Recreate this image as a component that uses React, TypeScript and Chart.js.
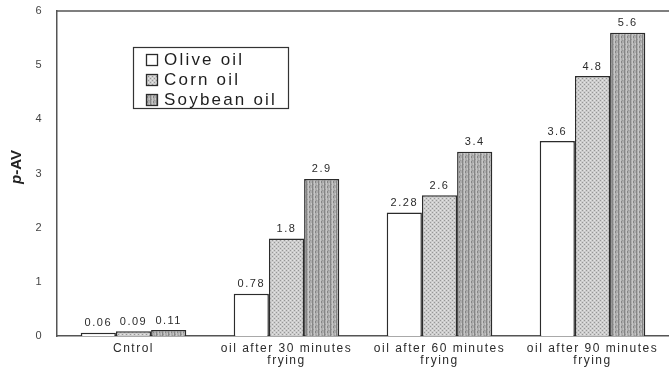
import React, { useEffect, useRef } from "react";
import { Chart, registerables } from "chart.js";

Chart.register(...registerables);

// Categories (multi-line labels) and p-AV values per oil
const categories: string[][] = [
  ["Cntrol"],
  ["oil after 30 minutes", "frying"],
  ["oil after 60 minutes", "frying"],
  ["oil after 90 minutes", "frying"],
];
const seriesNames = ["Olive oil", "Corn oil", "Soybean oil"];
const oliveOil = [0.06, 0.78, 2.28, 3.6];
const cornOil = [0.09, 1.8, 2.6, 4.8];
const soybeanOil = [0.11, 2.9, 3.4, 5.6];
const yTicks = [0, 1, 2, 3, 4, 5, 6];

const FONT = "'Liberation Sans', Arial, Helvetica, sans-serif";
const INK = "#2b2b2b";

function makeCornPattern(): CanvasPattern | string {
  const c = document.createElement("canvas");
  c.width = 4;
  c.height = 4;
  const g = c.getContext("2d");
  if (!g) return "#cacaca";
  g.fillStyle = "#cdcdcd";
  g.fillRect(0, 0, 4, 4);
  g.fillStyle = "#979797";
  g.fillRect(0, 0, 1, 1);
  g.fillRect(2, 2, 1, 1);
  g.fillStyle = "#e4e4e4";
  g.fillRect(2, 0, 1, 1);
  g.fillRect(0, 2, 1, 1);
  return g.createPattern(c, "repeat") || "#cacaca";
}

function makeSoyPattern(): CanvasPattern | string {
  const c = document.createElement("canvas");
  c.width = 6;
  c.height = 5;
  const g = c.getContext("2d");
  if (!g) return "#aaaaaa";
  g.fillStyle = "#adadad";
  g.fillRect(0, 0, 6, 5);
  g.fillStyle = "#858585";
  g.fillRect(0, 0, 1, 5);
  g.fillRect(3, 1, 1, 2);
  g.fillStyle = "#c6c6c6";
  g.fillRect(2, 0, 1, 5);
  g.fillRect(5, 3, 1, 2);
  g.fillStyle = "#989898";
  g.fillRect(4, 0, 1, 1);
  g.fillRect(1, 4, 1, 1);
  return g.createPattern(c, "repeat") || "#aaaaaa";
}

// Frame line across the top of the plot area, y-axis title, value labels, in-plot legend
const decorPlugin = {
  id: "decor",
  beforeDraw(chart: any) {
    chart.ctx.letterSpacing = "1.5px";
  },
  afterDatasetsDraw(chart: any) {
    const ctx = chart.ctx as CanvasRenderingContext2D;
    const area = chart.chartArea;

    // top frame line
    ctx.save();
    ctx.strokeStyle = "#555";
    ctx.lineWidth = 1.5;
    ctx.beginPath();
    ctx.moveTo(area.left, area.top);
    ctx.lineTo(chart.width, area.top);
    ctx.stroke();
    ctx.restore();

    // value labels above each bar
    ctx.save();
    (ctx as any).letterSpacing = "1.5px";
    ctx.font = `11px ${FONT}`;
    ctx.fillStyle = INK;
    ctx.textAlign = "center";
    ctx.textBaseline = "bottom";
    chart.data.datasets.forEach((ds: any, i: number) => {
      const meta = chart.getDatasetMeta(i);
      meta.data.forEach((bar: any, j: number) => {
        ctx.fillText(String(ds.data[j]), bar.x, bar.y - 4);
      });
    });
    ctx.restore();

    // y-axis title: italic p, upright -AV
    ctx.save();
    (ctx as any).letterSpacing = "0px";
    ctx.translate(17, 167);
    ctx.rotate(-Math.PI / 2);
    ctx.textBaseline = "middle";
    ctx.fillStyle = "#222";
    const partA = "p";
    const partB = "-AV";
    ctx.font = `italic bold 15px ${FONT}`;
    const wA = ctx.measureText(partA).width;
    ctx.font = `bold 15px ${FONT}`;
    const wB = ctx.measureText(partB).width;
    const start = -(wA + wB) / 2;
    ctx.font = `italic bold 15px ${FONT}`;
    ctx.textAlign = "left";
    ctx.fillText(partA, start, 0);
    ctx.font = `bold 15px ${FONT}`;
    ctx.fillText(partB, start + wA, 0);
    ctx.restore();

    // legend box
    ctx.save();
    const bx = 133;
    const by = 47;
    const bw = 155;
    const bh = 61;
    ctx.fillStyle = "#ffffff";
    ctx.fillRect(bx, by, bw, bh);
    ctx.strokeStyle = "#333";
    ctx.lineWidth = 1.2;
    ctx.strokeRect(bx + 0.5, by + 0.5, bw, bh);
    (ctx as any).letterSpacing = "2.2px";
    ctx.font = `17px ${FONT}`;
    ctx.textBaseline = "middle";
    ctx.textAlign = "left";
    chart.data.datasets.forEach((ds: any, i: number) => {
      const cy = by + 12 + i * 20;
      ctx.fillStyle = ds.backgroundColor;
      ctx.fillRect(146, cy - 5, 12, 12);
      ctx.strokeStyle = INK;
      ctx.lineWidth = 1.3;
      ctx.strokeRect(146.5, cy - 4.5, 11, 11);
      ctx.fillStyle = "#1e1e1e";
      ctx.fillText(ds.label, 164, cy + 1);
    });
    ctx.restore();
  },
  afterDraw(chart: any) {
    chart.ctx.letterSpacing = "0px";
  },
};

export default function App() {
  const canvasRef = useRef<HTMLCanvasElement | null>(null);

  useEffect(() => {
    const canvas = canvasRef.current;
    if (!canvas) return;
    const corn = makeCornPattern();
    const soy = makeSoyPattern();
    const barStyle = {
      borderColor: INK,
      borderWidth: 1.5,
      borderSkipped: "bottom" as const,
      categoryPercentage: 0.69,
      barPercentage: 1.0,
    };
    const chart = new Chart(canvas, {
      type: "bar",
      data: {
        labels: categories,
        datasets: [
          { label: seriesNames[0], data: oliveOil, backgroundColor: "#ffffff", ...barStyle },
          { label: seriesNames[1], data: cornOil, backgroundColor: corn as any, ...barStyle },
          { label: seriesNames[2], data: soybeanOil, backgroundColor: soy as any, ...barStyle },
        ],
      },
      options: {
        responsive: false,
        animation: false,
        layout: { padding: { top: 11, right: 0, left: 0, bottom: 0 } },
        plugins: {
          legend: { display: false },
          tooltip: { enabled: false },
          title: { display: false },
        },
        scales: {
          x: {
            grid: { display: false, drawTicks: false },
            border: { display: true, color: "#555", width: 1.5 },
            ticks: {
              color: INK,
              font: { family: FONT, size: 12, lineHeight: 1.05 },
              padding: 6,
              maxRotation: 0,
              autoSkip: false,
            },
            afterFit(scale: any) {
              scale.height = 33;
              scale.paddingLeft = 0;
              scale.paddingRight = 0;
            },
          },
          y: {
            min: 0,
            max: 6,
            afterBuildTicks(scale: any) {
              scale.ticks = yTicks.map((v) => ({ value: v }));
            },
            grid: { display: false, drawTicks: false },
            border: { display: true, color: "#555", width: 1.5 },
            ticks: {
              color: "#444",
              font: { family: FONT, size: 11 },
              padding: 14,
            },
            afterFit(scale: any) {
              scale.width = 57;
              scale.paddingTop = 0;
              scale.paddingBottom = 0;
            },
          },
        },
      },
      plugins: [decorPlugin],
    });
    return () => chart.destroy();
  }, []);

  return (
    <div style={{ position: "fixed", left: 0, top: 0, width: 669, height: 369, background: "#ffffff" }}>
      <canvas ref={canvasRef} width={669} height={369} />
    </div>
  );
}
